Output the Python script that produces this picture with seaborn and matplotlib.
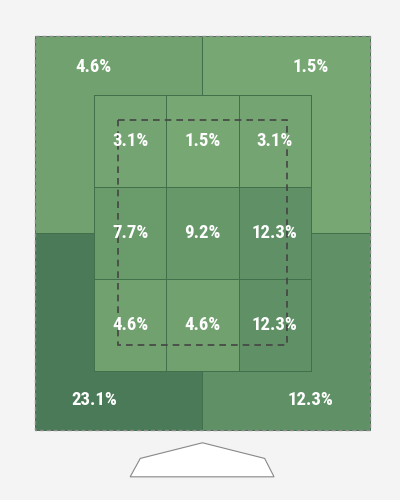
import numpy as np
import seaborn as sns
import matplotlib.pyplot as plt
from matplotlib.colors import LinearSegmentedColormap, Normalize
from matplotlib.patches import Rectangle, Polygon

# zone percentages
inner_zones = [[3.1, 1.5, 3.1],
               [7.7, 9.2, 12.3],
               [4.6, 4.6, 12.3]]
outer_names = ["top_left", "top_right", "bottom_left", "bottom_right"]
outer_zones = [4.6, 1.5, 23.1, 12.3]

sns.set_style("white")
fams = ['Roboto Condensed', 'Liberation Sans Narrow', 'DejaVu Sans']
plt.rcParams['font.family'] = fams

cmap = LinearSegmentedColormap.from_list("greens", ["#7aab75", "#4a7a58"])
norm = Normalize(vmin=0, vmax=23.1)
line_col = "#42704b"
txt_kw = {"color": "white", "fontsize": 13.5, "fontweight": "bold",
          "family": fams, "fontstretch": "condensed", "zorder": 6}

fig = plt.figure(figsize=(4, 5), dpi=100, facecolor="#f4f4f4")
ax = fig.add_axes([0, 0, 1, 1])
ax.set_facecolor("#f4f4f4")

# outer box geometry (inner grid spans 0..3 on both axes)
x0, x1, xm = -0.816, 3.817, 1.5
y0, y1, ym = -0.64, 3.64, 1.5
outer_boxes = [(x0, y0, xm - x0, ym - y0), (xm, y0, x1 - xm, ym - y0),
               (x0, ym, xm - x0, y1 - ym), (xm, ym, x1 - xm, y1 - ym)]
for (bx, by, bw, bh), v in zip(outer_boxes, outer_zones):
    ax.add_patch(Rectangle((bx, by), bw, bh, facecolor=cmap(norm(v)),
                           edgecolor=line_col, linewidth=0.7, zorder=0.5))
ax.add_patch(Rectangle((x0, y0), x1 - x0, y1 - y0, fill=False,
                       edgecolor="#8a8a8a", linewidth=1, linestyle=(0, (3, 2)), zorder=3))

labels = np.array([[f"{v}%" for v in row] for row in inner_zones])
sns.heatmap(np.array(inner_zones), ax=ax, cmap=cmap, norm=norm, cbar=False,
            annot=labels, fmt="", linewidths=0.5, linecolor=line_col,
            annot_kws=txt_kw)
ax.add_patch(Rectangle((0, 0), 3, 3, fill=False, edgecolor=line_col, linewidth=0.7, zorder=2))

label_pos = [(0, -0.30), (3, -0.30), (0, 3.32), (3, 3.32)]
for (lx, ly), v in zip(label_pos, outer_zones):
    ax.text(lx, ly, f"{v}%", ha="center", va="center", **txt_kw)

# strike zone
ax.add_patch(Rectangle((0.33, 0.27), 2.34, 2.45, fill=False, edgecolor="#444444",
                       linewidth=1.2, linestyle=(0, (4, 3)), zorder=4))

# home plate
plate = [(0.5, 4.15), (0.64, 3.95), (1.5, 3.78), (2.36, 3.95), (2.49, 4.15)]
ax.add_patch(Polygon(plate, closed=True, facecolor="white", edgecolor="#888888",
                     linewidth=0.8, zorder=3))

ax.set_xlim(-1.30, 4.232)
ax.set_ylim(4.402, -1.033)
ax.axis("off")

plt.savefig("out.png", dpi=100, facecolor=fig.get_facecolor())
